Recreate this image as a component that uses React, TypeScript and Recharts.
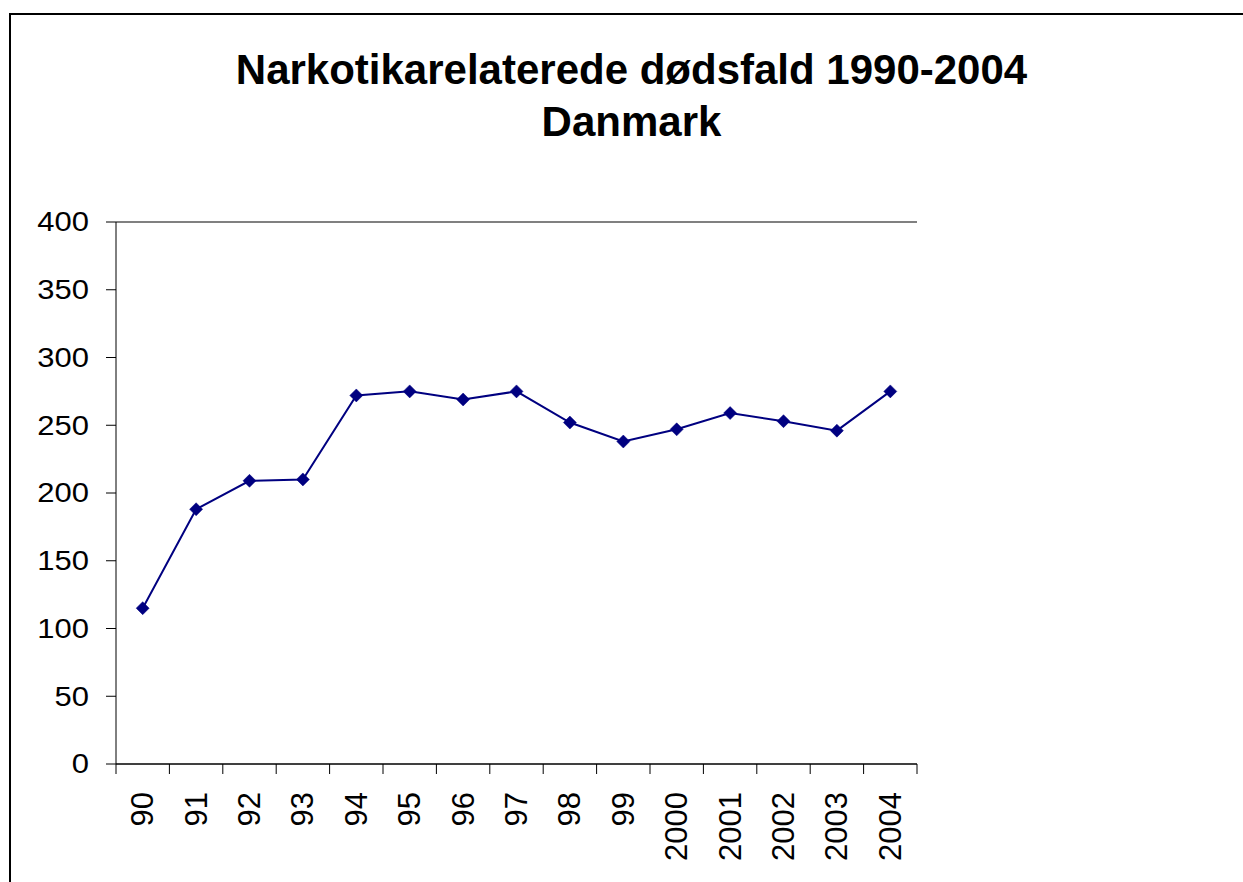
import { CartesianGrid, Line, LineChart, ReferenceLine, XAxis, YAxis } from "recharts";

const years = ["90", "91", "92", "93", "94", "95", "96", "97", "98", "99", "2000", "2001", "2002", "2003", "2004"];
const deaths = [115, 188, 209, 210, 272, 275, 269, 275, 252, 238, 247, 259, 253, 246, 275];
const yTicks = [0, 50, 100, 150, 200, 250, 300, 350, 400];
const titleLines = ["Narkotikarelaterede dødsfald 1990-2004", "Danmark"];

const W = 1243;
const H = 882;
const PLOT_LEFT = 116;
const PLOT_RIGHT = 917;
const PLOT_TOP = 222;
const PLOT_BOTTOM = 764;
const Y_AXIS_W = 60;
const X_AXIS_H = 100;
const BAND = (PLOT_RIGHT - PLOT_LEFT) / years.length;
const FONT = '"Liberation Sans", Arial, sans-serif';

const data = years.map((y, i) => ({ year: y, value: deaths[i] }));

function YearTick(props: any) {
  const { x, payload, index } = props;
  const left = x - BAND / 2;
  return (
    <g>
      <line x1={left} x2={left} y1={PLOT_BOTTOM} y2={PLOT_BOTTOM + 10} stroke="#000" />
      {index === years.length - 1 && (
        <line x1={x + BAND / 2} x2={x + BAND / 2} y1={PLOT_BOTTOM} y2={PLOT_BOTTOM + 10} stroke="#000" />
      )}
      <text
        x={0}
        y={0}
        transform={`translate(${x},${PLOT_BOTTOM + 28}) rotate(-90)`}
        textAnchor="end"
        dominantBaseline="central"
        fontSize={31}
        fontFamily={FONT}
        fill="#000"
      >
        {payload.value}
      </text>
    </g>
  );
}

function ValueTick(props: any) {
  const { y, payload } = props;
  return (
    <text
      x={0}
      y={0}
      transform={`translate(${PLOT_LEFT - 27},${y}) scale(1,0.88)`}
      textAnchor="end"
      dominantBaseline="central"
      fontSize={31}
      fontFamily={FONT}
      fill="#000"
    >
      {payload.value}
    </text>
  );
}

function Diamond(props: any) {
  const { cx, cy } = props;
  if (cx == null || cy == null) return null;
  const r = 6.5;
  return (
    <polygon
      points={`${cx},${cy - r} ${cx + r},${cy} ${cx},${cy + r} ${cx - r},${cy}`}
      fill="#000080"
      stroke="#000080"
      strokeWidth={0.5}
    />
  );
}

export default function App() {
  return (
    <div
      style={{
        position: "absolute",
        left: 0,
        top: 0,
        width: W,
        height: H,
        overflow: "hidden",
        background: "#fff",
        fontFamily: FONT,
      }}
    >
      <div
        style={{
          position: "absolute",
          left: 9,
          top: 13,
          width: 1300,
          height: 920,
          border: "2px solid #000",
        }}
      />
      <div
        style={{
          position: "absolute",
          left: 0,
          top: 44,
          width: 1263,
          textAlign: "center",
          fontSize: 42,
          fontWeight: "bold",
          lineHeight: "52px",
          color: "#000",
        }}
      >
        {titleLines.map((t) => (
          <div key={t}>{t}</div>
        ))}
      </div>
      <div style={{ position: "absolute", left: 0, top: 0 }}>
        <LineChart
          width={W}
          height={H}
          data={data}
          margin={{
            top: PLOT_TOP,
            right: W - PLOT_RIGHT,
            bottom: H - PLOT_BOTTOM - X_AXIS_H,
            left: PLOT_LEFT - Y_AXIS_W,
          }}
        >
          <CartesianGrid vertical={false} stroke="#000" strokeWidth={1} />
          <XAxis
            dataKey="year"
            scale="band"
            height={X_AXIS_H}
            interval={0}
            tickLine={false}
            axisLine={{ stroke: "#000" }}
            tick={<YearTick />}
          />
          <YAxis
            yAxisId="left"
            width={Y_AXIS_W}
            domain={[0, 400]}
            ticks={yTicks}
            tickSize={10}
            stroke="#000"
            tick={<ValueTick />}
          />
          <YAxis
            yAxisId="right"
            orientation="right"
            width={0}
            domain={[0, 400]}
            tick={false}
            tickLine={false}
            axisLine={{ stroke: "#808080", strokeWidth: 1.5 }}
          />
          <ReferenceLine yAxisId="left" y={400} stroke="#808080" strokeWidth={1.5} />
          <Line
            yAxisId="left"
            type="linear"
            dataKey="value"
            stroke="#000080"
            strokeWidth={2}
            dot={<Diamond />}
            activeDot={false}
            isAnimationActive={false}
          />
        </LineChart>
      </div>
    </div>
  );
}
